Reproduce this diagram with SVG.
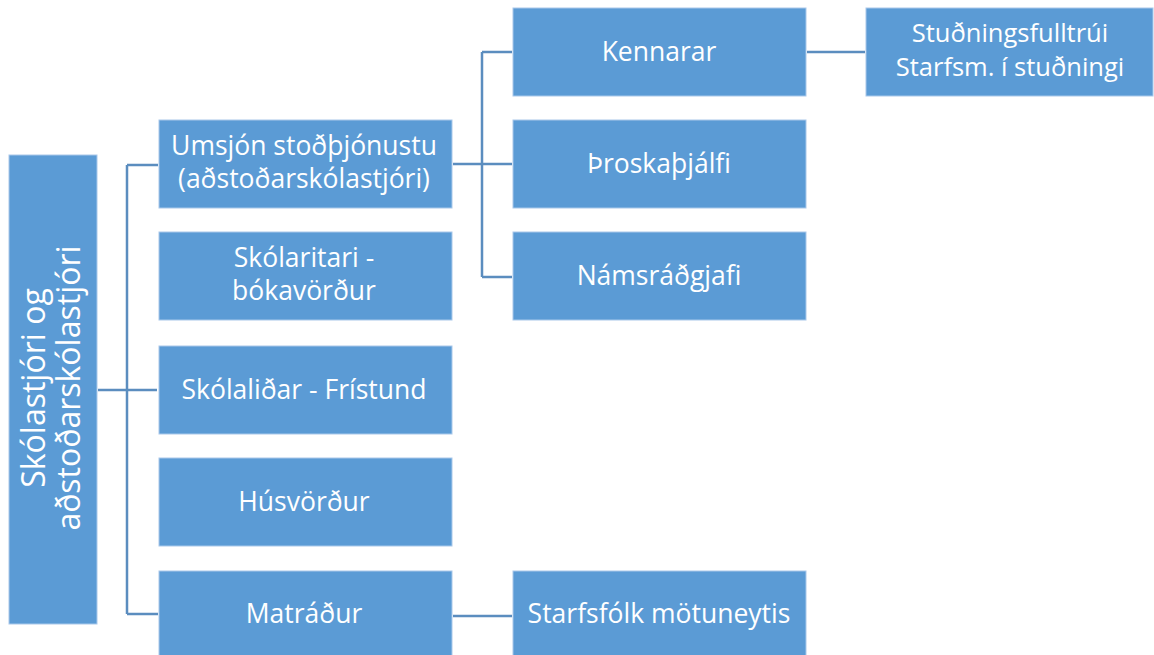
<svg xmlns="http://www.w3.org/2000/svg" width="1154" height="655" viewBox="0 0 1154 655">
<style>
.box{fill:#5B9BD5;stroke:#A9C8EA;stroke-width:1}
.t{font-family:"Open Sans","Liberation Sans",sans-serif;font-size:26.5px;fill:#FFFFFF;text-anchor:middle}
.s{font-family:"Open Sans","Liberation Sans",sans-serif;font-size:25.5px;fill:#FFFFFF;text-anchor:middle}
.r{font-family:"Open Sans","Liberation Sans",sans-serif;font-size:32px;fill:#FFFFFF;text-anchor:middle}
.c{fill:none;stroke:#5B8DBF;stroke-width:2.5}
</style>
<rect width="1154" height="655" fill="#FFFFFF"/>
<g id="connectors">
<path class="c" d="M98 390H157M127 165V614M127 165H158M127 614H158"/>
<path class="c" d="M453 164H512M482 52V277M482 52H512M482 277H512"/>
<path class="c" d="M807 52H865"/>
<path class="c" d="M453 616H512"/>
</g>
<g id="root">
<rect class="box" x="9" y="155" width="88" height="469"/>
<text class="r" transform="translate(53 388) rotate(-90)"><tspan x="0" y="-8">Skólastjóri og</tspan><tspan x="0" y="27">aðstoðarskólastjóri</tspan></text>
</g>
<g id="umsjon">
<rect class="box" x="159" y="120" width="293" height="88"/>
<text class="t"><tspan x="304" y="155">Umsjón stoðþjónustu</tspan><tspan x="304" y="188">(aðstoðarskólastjóri)</tspan></text>
</g>
<g id="skolaritari">
<rect class="box" x="159" y="232" width="293" height="88"/>
<text class="t"><tspan x="304" y="267">Skólaritari -</tspan><tspan x="304" y="300">bókavörður</tspan></text>
</g>
<g id="skolalidar">
<rect class="box" x="159" y="346" width="293" height="88"/>
<text class="t" x="304" y="399">Skólaliðar - Frístund</text>
</g>
<g id="husvordur">
<rect class="box" x="159" y="458" width="293" height="88"/>
<text class="t" x="304" y="511">Húsvörður</text>
</g>
<g id="matradur">
<rect class="box" x="159" y="571" width="293" height="88"/>
<text class="t" x="304" y="623">Matráður</text>
</g>
<g id="kennarar">
<rect class="box" x="513" y="8" width="293" height="88"/>
<text class="t" x="659" y="61">Kennarar</text>
</g>
<g id="throskathjalfi">
<rect class="box" x="513" y="120" width="293" height="88"/>
<text class="t" x="659" y="173">Þroskaþjálfi</text>
</g>
<g id="namsradgjafi">
<rect class="box" x="513" y="232" width="293" height="88"/>
<text class="t" x="659" y="285">Námsráðgjafi</text>
</g>
<g id="starfsfolk">
<rect class="box" x="513" y="571" width="293" height="88"/>
<text class="t" x="659" y="623">Starfsfólk mötuneytis</text>
</g>
<g id="studningsfulltrui">
<rect class="box" x="866" y="8" width="287" height="88"/>
<text class="s"><tspan x="1010" y="42">Stuðningsfulltrúi</tspan><tspan x="1010" y="76">Starfsm. í stuðningi</tspan></text>
</g>
</svg>
